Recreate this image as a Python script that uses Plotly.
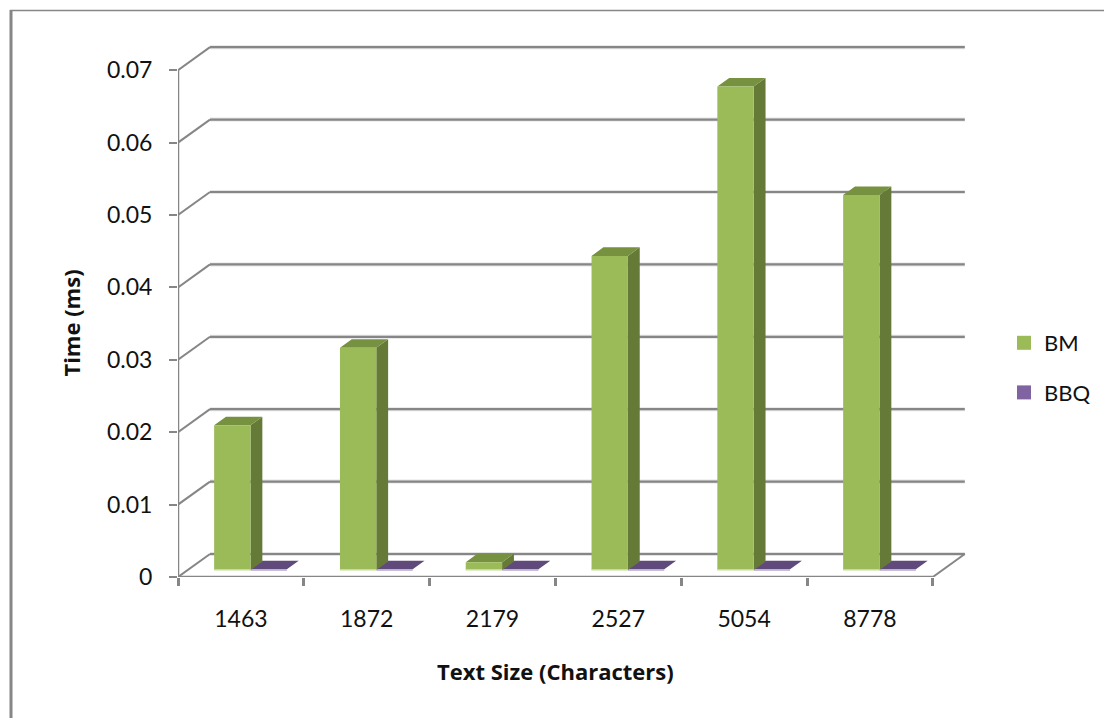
import plotly.graph_objects as go

# Chart data
categories = ["1463", "1872", "2179", "2527", "5054", "8778"]
bm_times = [0.0200, 0.0307, 0.0011, 0.0434, 0.0668, 0.0518]
bbq_times = [0.0001, 0.0001, 0.0001, 0.0001, 0.0001, 0.0001]
y_ticks = [0, 0.01, 0.02, 0.03, 0.04, 0.05, 0.06, 0.07]
y_tick_labels = ["0", "0.01", "0.02", "0.03", "0.04", "0.05", "0.06", "0.07"]

# Oblique projection: how far the back wall sits from the front plane, in axis units
DEPTH_X = 0.2544
DEPTH_Y = 0.00318
BAR_GAP = 0.211
BAR_WIDTH = 0.289
BAR_D0 = 0.30
BAR_D1 = 0.67

AXIS_GREY = "#868686"
FONT = "Lato"
TITLE_FONT = "Open Sans"
FONT_SIZE = 23
TITLE_SIZE = 22


def proj(x, v, d):
    return x + d * DEPTH_X, v + d * DEPTH_Y


def poly(points):
    xs, ys = zip(*[proj(*p) for p in points])
    return list(xs) + [xs[0], None], list(ys) + [ys[0], None]


def box_faces(values, offset):
    front, side, top, base = ([], []), ([], []), ([], []), ([], [])
    for i, v in enumerate(values):
        x0 = i + BAR_GAP + offset
        x1 = x0 + BAR_WIDTH
        for face, pts in (
            (front, [(x0, 0, BAR_D0), (x1, 0, BAR_D0), (x1, v, BAR_D0), (x0, v, BAR_D0)]),
            (side, [(x1, 0, BAR_D0), (x1, 0, BAR_D1), (x1, v, BAR_D1), (x1, v, BAR_D0)]),
            (top, [(x0, v, BAR_D0), (x1, v, BAR_D0), (x1, v, BAR_D1), (x0, v, BAR_D1)]),
        ):
            xs, ys = poly(pts)
            face[0].extend(xs)
            face[1].extend(ys)
        bx, by = zip(proj(x0, 0, BAR_D0), proj(x1, 0, BAR_D0))
        base[0].extend(list(bx) + [None])
        base[1].extend(list(by) + [None])
    return front, side, top, base


def face_trace(face, color):
    return go.Scatter(x=face[0], y=face[1], mode="lines", fill="toself", fillcolor=color,
                      line=dict(width=0, color=color), showlegend=False, hoverinfo="skip",
                      cliponaxis=False)


def line_trace(xs, ys, color, width):
    return go.Scatter(x=xs, y=ys, mode="lines", line=dict(color=color, width=width),
                      showlegend=False, hoverinfo="skip", cliponaxis=False)


n = len(categories)
fig = go.Figure()

# Back wall gridlines with their soft halo, then the side wall and floor edges
grid_x, grid_y, wall_x, wall_y = [], [], [], []
for v in y_ticks:
    x_a, y_a = proj(0, v, 1)
    x_b, y_b = proj(n, v, 1)
    grid_x += [x_a, x_b, None]
    grid_y += [y_a, y_b, None]
    x_f, y_f = proj(0, v, 0)
    wall_x += [x_f, x_a, None]
    wall_y += [y_f, y_a, None]
x_r0, y_r0 = proj(n, 0, 0)
x_r1, y_r1 = proj(n, 0, 1)

fig.add_trace(line_trace(grid_x, grid_y, "#E4E4E4", 4))
fig.add_trace(line_trace(grid_x, grid_y, AXIS_GREY, 2.2))
fig.add_trace(line_trace(wall_x, wall_y, AXIS_GREY, 2))
fig.add_trace(line_trace([x_r0, x_r1], [y_r0, y_r1], AXIS_GREY, 2))
fig.add_trace(line_trace([0, 0, n], [y_ticks[-1], 0, 0], AXIS_GREY, 2.5))

# Nearly flat BBQ boxes sit behind the BM side faces
front, side, top, base = box_faces(bbq_times, BAR_WIDTH)
fig.add_trace(face_trace(top, "#604A7B"))
fig.add_trace(line_trace(base[0], base[1], "#B7A8CC", 1.5))

front, side, top, base = box_faces(bm_times, 0)
fig.add_trace(face_trace(side, "#657A37"))
fig.add_trace(face_trace(top, "#76913F"))
fig.add_trace(face_trace(front, "#9BBB59"))
fig.add_trace(line_trace(base[0], base[1], "#D7E4BD", 1.5))

# Legend entries
for name, color in (("BM", "#9BBB59"), ("BBQ", "#8064A2")):
    fig.add_trace(go.Scatter(x=[None], y=[None], mode="markers", name=name, legendgroup=name,
                             marker=dict(symbol="square", size=14, color=color)))

# Plot area sits a little beyond the back wall so its top and right lines keep full weight
LEFT, RIGHT, TOP, BOTTOM = 178, 980, 30, 577
WIDTH, HEIGHT = 1104, 718


def px_x(p):
    return (p - LEFT) / (RIGHT - LEFT)


def px_y(p):
    return (BOTTOM - p) / (BOTTOM - TOP)


fig.update_layout(
    width=WIDTH, height=HEIGHT, autosize=False,
    margin=dict(l=LEFT, r=WIDTH - RIGHT, t=TOP, b=HEIGHT - BOTTOM, pad=0),
    paper_bgcolor="white", plot_bgcolor="white",
    font=dict(family=FONT, size=FONT_SIZE, color="#111111"),
    xaxis=dict(
        range=[0, (RIGHT - LEFT) / 125.8], showgrid=False, zeroline=False, showline=False,
        tickmode="array", tickvals=[i + 0.5 for i in range(n)], ticktext=categories,
        ticks="", ticklabelstandoff=26, tickfont=dict(size=FONT_SIZE),
        minor=dict(ticks="outside", tickmode="array", tickvals=list(range(n + 1)),
                   ticklen=8, tickwidth=2.5, tickcolor=AXIS_GREY, showgrid=False),
    ),
    yaxis=dict(
        range=[0, (BOTTOM - TOP) / 7240], showgrid=False, zeroline=False, showline=False,
        tickmode="array", tickvals=y_ticks, ticktext=y_tick_labels,
        ticks="outside", ticklen=8, tickwidth=2, tickcolor=AXIS_GREY, ticklabelstandoff=12,
        tickfont=dict(size=FONT_SIZE),
    ),
    legend=dict(
        xref="container", yref="container", x=1004 / WIDTH, xanchor="left",
        y=1 - 322 / HEIGHT, yanchor="top",
        tracegroupgap=18, font=dict(size=22), bgcolor="rgba(0,0,0,0)",
    ),
    annotations=[
        dict(text="<b>Text Size (Characters)</b>", xref="x", yref="paper", x=n / 2, y=0,
             yshift=-94, yanchor="middle", xanchor="center", showarrow=False,
             font=dict(size=TITLE_SIZE, family=TITLE_FONT)),
        dict(text="<b>Time (ms)</b>", xref="paper", yref="y", x=0, y=0.035, xshift=-107,
             textangle=-90, xanchor="center", yanchor="middle", showarrow=False,
             font=dict(size=TITLE_SIZE, family=TITLE_FONT)),
    ],
    shapes=[
        dict(type="line", xref="paper", yref="paper", x0=px_x(11), x1=px_x(11),
             y0=px_y(10), y1=px_y(718), line=dict(color=AXIS_GREY, width=3)),
        dict(type="line", xref="paper", yref="paper", x0=px_x(10), x1=px_x(1104),
             y0=px_y(10.5), y1=px_y(10.5), line=dict(color=AXIS_GREY, width=1.5)),
    ],
)

fig.write_html("out.html")
